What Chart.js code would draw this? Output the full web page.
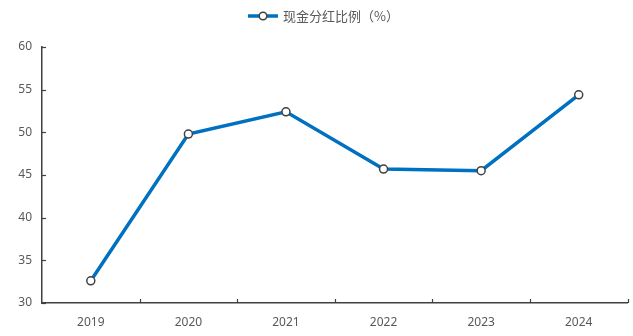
<!DOCTYPE html>
<html>
<head>
<meta charset="utf-8">
<script src="https://cdn.jsdelivr.net/npm/chart.js@4/dist/chart.umd.min.js"></script>
<style>
  body { margin: 0; background: #fff; }
  #wrap { width: 633px; height: 336px; }
</style>
</head>
<body>
<div id="wrap"><canvas id="chart" width="633" height="336"></canvas></div>
<script>
const years = ["2019", "2020", "2021", "2022", "2023", "2024"];
const payoutRatio = [32.6, 49.8, 52.4, 45.7, 45.5, 54.4];
const yTicks = [30, 35, 40, 45, 50, 55, 60];
const seriesName = "现金分红比例（%）";

const lineColor = "#0070C0";
const axisColor = "#404040";
const textColor = "#595959";

// inner tick marks + legend drawn by hand (Excel style)
const extrasPlugin = {
    id: "extras",
    afterDraw(chart) {
        const ctx = chart.ctx;
        const x = chart.scales.x;
        const y = chart.scales.y;
        const area = chart.chartArea;

        ctx.save();
        ctx.strokeStyle = axisColor;
        ctx.lineWidth = 1.2;
        const step = x.getPixelForValue(1) - x.getPixelForValue(0);
        for (let i = 1; i <= years.length; i++) {
            const px = Math.round(x.getPixelForValue(i) - step / 2) + 0.5;
            ctx.beginPath();
            ctx.moveTo(px, area.bottom);
            ctx.lineTo(px, area.bottom - 4);
            ctx.stroke();
        }
        yTicks.forEach(v => {
            const py = Math.round(y.getPixelForValue(v)) + 0.5;
            ctx.beginPath();
            ctx.moveTo(area.left, py);
            ctx.lineTo(area.left + 4, py);
            ctx.stroke();
        });

        // legend
        const ly = 16;
        ctx.strokeStyle = lineColor;
        ctx.lineWidth = 3.5;
        ctx.beginPath();
        ctx.moveTo(248, ly);
        ctx.lineTo(278, ly);
        ctx.stroke();
        ctx.beginPath();
        ctx.arc(263, ly, 3.8, 0, Math.PI * 2);
        ctx.fillStyle = "#fff";
        ctx.fill();
        ctx.strokeStyle = axisColor;
        ctx.lineWidth = 1.5;
        ctx.stroke();
        ctx.fillStyle = textColor;
        ctx.font = "13px 'Noto Sans CJK SC'";
        ctx.textBaseline = "middle";
        ctx.textAlign = "left";
        ctx.fillText(seriesName, 283, ly);
        ctx.restore();
    }
};

const ctx = document.getElementById("chart").getContext("2d");
new Chart(ctx, {
    type: "line",
    data: {
        labels: years,
        datasets: [{
            label: seriesName,
            data: payoutRatio,
            borderColor: lineColor,
            borderWidth: 3.5,
            tension: 0,
            pointRadius: 4,
            pointBackgroundColor: "#fff",
            pointBorderColor: axisColor,
            pointBorderWidth: 1.5
        }]
    },
    options: {
        responsive: false,
        animation: false,
        layout: { padding: { top: 47, right: 4, bottom: 0, left: 0 } },
        plugins: {
            legend: { display: false },
            tooltip: { enabled: false }
        },
        scales: {
            x: {
                offset: true,
                afterFit: s => { s.height = 33; },
                grid: { display: false, drawTicks: false },
                border: { display: true, color: axisColor, width: 1.5 },
                ticks: { color: textColor, padding: 12, font: { family: "Noto Sans", size: 12 } }
            },
            y: {
                min: 30,
                max: 60,
                afterFit: s => { s.width = 42; },
                afterBuildTicks: s => { s.ticks = yTicks.map(v => ({ value: v })); },
                grid: { display: false, drawTicks: false },
                border: { display: true, color: axisColor, width: 1.5 },
                ticks: { color: textColor, padding: 10, font: { family: "Noto Sans", size: 12 } }
            }
        }
    },
    plugins: [extrasPlugin]
});
</script>
</body>
</html>
